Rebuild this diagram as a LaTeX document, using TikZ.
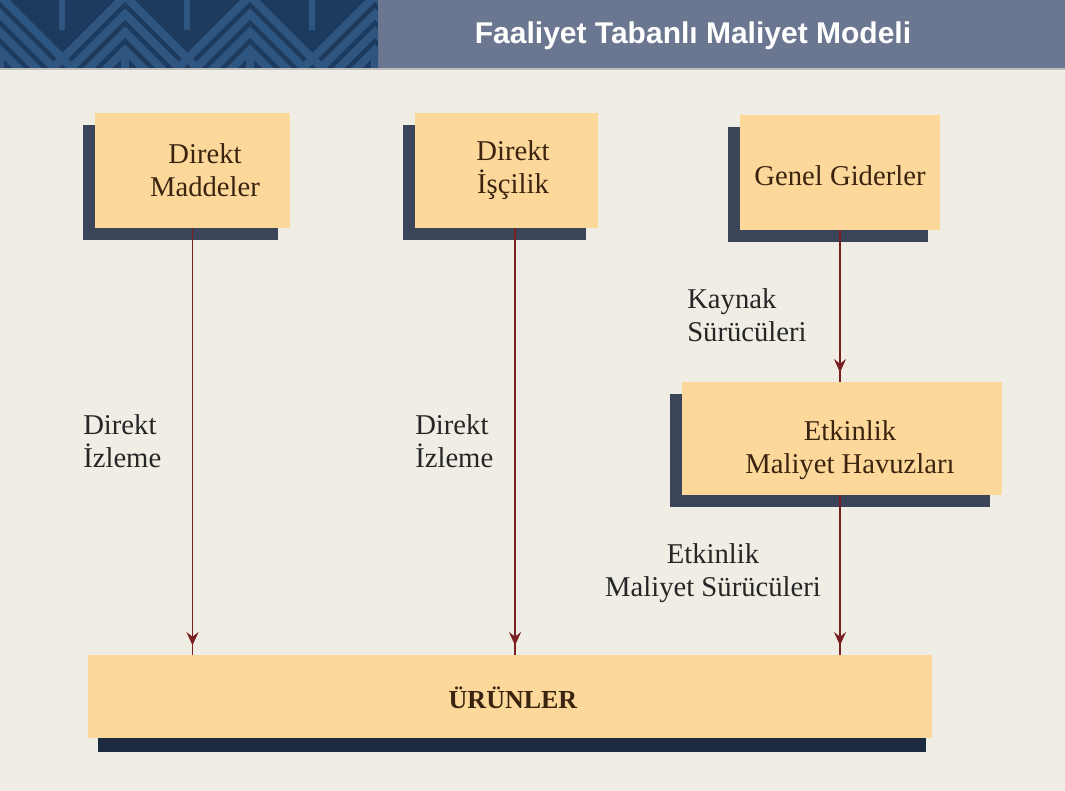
\documentclass[tikz,border=0pt]{standalone}
\usepackage{fontspec}
\setmainfont{Liberation Serif}
\newfontfamily\titlefont{Liberation Sans}
\usetikzlibrary{shadows,decorations.markings,arrows.meta}
\definecolor{bgc}{HTML}{EFEDE4}
\definecolor{boxc}{HTML}{FDD89B}
\definecolor{shadowc}{HTML}{3B4559}
\definecolor{prodshadow}{HTML}{1B2A3F}
\definecolor{arrowc}{HTML}{7A1F1F}
\definecolor{headc}{HTML}{6B7790}
\definecolor{patdark}{HTML}{1D3B5E}
\definecolor{patlight}{HTML}{2F5680}
\definecolor{txtc}{HTML}{3A2410}
\tikzset{
  box/.style={fill=boxc, draw=none, inner sep=0pt,
    drop shadow={shadow xshift=-9pt, shadow yshift=-9pt, fill=shadowc, opacity=1}},
  boxtext/.style={font=\fontsize{21.5}{25}\selectfont, text=txtc, align=center, inner sep=0pt},
  lbl/.style={font=\fontsize{21.5}{25}\selectfont, text=black!85, inner sep=0pt},
  flow/.style={draw=arrowc, line width=1.1pt, postaction={decorate},
    decoration={markings, mark=at position -7pt with {\arrow[arrowc]{Stealth[length=10pt,width=9pt,inset=3.5pt]}}}}
}
\begin{document}
\begin{tikzpicture}[x=0.75pt,y=-0.75pt]
\useasboundingbox (0,0) rectangle (1065,791);
\fill[bgc] (0,0) rectangle (1065,791);
% header
\fill[headc] (378,0) rectangle (1065,68);
\fill[patdark] (0,0) rectangle (378,68);
\begin{scope}
\clip (0,0) rectangle (378,68);
\foreach \cx in {0,125,250,375} {
  \foreach \k in {0,1,2,3} {
    \draw[patlight, line width=6pt] (\cx-40-18*\k, 90) -- (\cx, 50-18*\k) -- (\cx+40+18*\k, 90);
  }
  \draw[patlight, line width=6pt] (\cx, 50) -- (\cx, 90);
  \draw[patlight, line width=5pt] (\cx+62, -5) -- (\cx+62, 30);
}
\end{scope}
\fill[black!25] (0,68) rectangle (1065,70);
\node[font=\titlefont\bfseries\fontsize{22.5}{26}\selectfont, text=white, inner sep=0pt] (title) at (693,36) {Faaliyet Tabanlı Maliyet Modeli};

% boxes
\node[box, minimum width=146.25pt, minimum height=86.25pt] (b1) at (192.5,170.5) {};
\node[boxtext] (t1) at (205,170) {Direkt\\Maddeler};
\node[box, minimum width=137.25pt, minimum height=86.25pt] (b2) at (506.5,170.5) {};
\node[boxtext] (t2) at (513,170) {Direkt\\İşçilik};
\node[box, minimum width=150pt, minimum height=86.25pt] (b3) at (840,172.5) {};
\node[boxtext] (t3) at (840,176) {Genel Giderler};
\node[box, minimum width=240pt, minimum height=84.75pt] (b4) at (842,438.5) {};
\node[boxtext] (t4) at (850,450) {Etkinlik\\Maliyet Havuzları};
\fill[prodshadow] (98,665) rectangle (926,752);
\node[fill=boxc, inner sep=0pt, minimum width=633pt, minimum height=62.25pt] (p) at (510,696.5) {};
\node[boxtext, font=\bfseries\fontsize{19.5}{24}\selectfont] (tp) at (513,698) {ÜRÜNLER};

% connectors
\draw[flow] (b1.south) -- (b1.south |- p.north);
\draw[flow] ([xshift=6.4pt]b2.south) -- ([xshift=6.4pt]b2.south |- p.north);
\draw[flow] (b3.south) -- (b3.south |- b4.north);
\draw[flow] (b4.south -| b3.south) -- (b3.south |- p.north);

% labels
\node[lbl, anchor=west, align=left] (l1) at (83,441) {Direkt\\İzleme};
\node[lbl, anchor=west, align=left] (l2) at (415,441) {Direkt\\İzleme};
\node[lbl, anchor=west, align=left] (l3) at (687,315) {Kaynak\\Sürücüleri};
\node[lbl, align=center] (l4) at (713,573) {Etkinlik\\Maliyet Sürücüleri};
\end{tikzpicture}
\end{document}
